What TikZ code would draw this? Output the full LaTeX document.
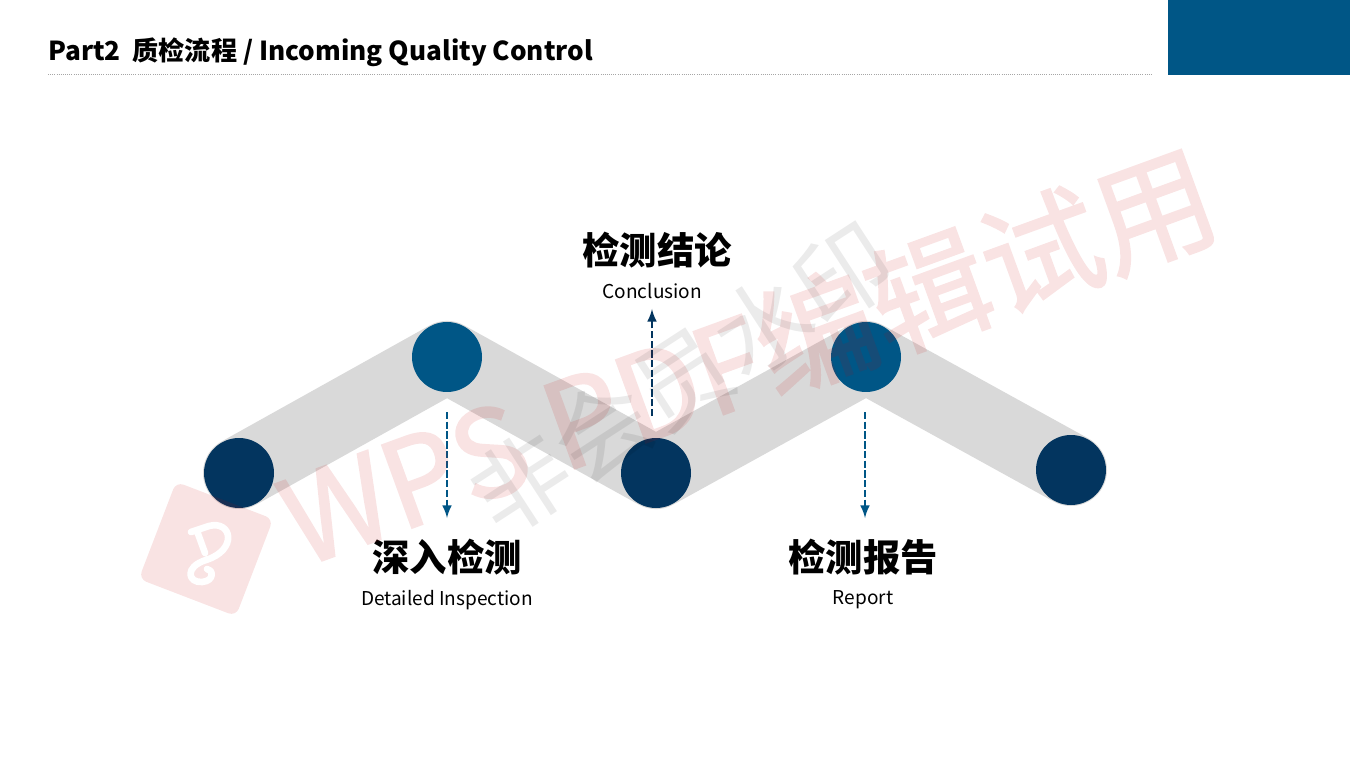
\documentclass[tikz,border=0pt]{standalone}
\usepackage{fontspec}
\setmainfont{Noto Sans CJK SC}
\newfontfamily\markfont[FakeBold=1.6]{Noto Sans CJK SC}
\usetikzlibrary{arrows.meta}
\usetikzlibrary{positioning}

\definecolor{lightblue}{HTML}{005686}
\definecolor{darkblue}{HTML}{03355F}
\definecolor{bandgray}{HTML}{D9D9D9}

\begin{document}
\begin{tikzpicture}[
      x = 0.75pt, y = -0.75pt,
      >=latex,
      node distance = 2mm,
      stop/.style = {
        circle, minimum size = 52.5pt, inner sep = 0pt
      },
      upper/.style = { fill = lightblue },
      lower/.style = { fill = darkblue },
      band/.style = {
        bandgray, line width = 54pt,
        line cap = round, line join = round
      },
      flow/.style = { ->, dash pattern = on 5.5pt off 1.8pt, line width = 2.2pt },
      heading/.style = {
        font = \fontsize{28}{30}\selectfont\bfseries,
        inner sep = 0pt
      },
      caption/.style = {
        font = \fontsize{14.3}{16}\selectfont,
        inner sep = 0pt
      },
      redmark/.style = { text = red!80!black, inner sep = 0pt },
      graymark/.style = { text = black, text opacity = 0.08, inner sep = 0pt },
    ]

    \useasboundingbox (0,0) rectangle (1350,759);
    \fill[white] (0,0) rectangle (1350,759);

    % header
    \fill[lightblue] (1168,0) rectangle (1350,75);
    \node[anchor = base west, inner sep = 0pt, font = \fontsize{19.6}{24}\selectfont\bfseries]
      (title) at (48,61) {Part2\ \ 质检流程 / Incoming Quality Control};
    \draw[gray!70, densely dotted, line width = 0.6pt] (48,74) to (1153,74);

    % path with stops
    \coordinate (A) at (239,473);
    \coordinate (B) at (447,357);
    \coordinate (C) at (656,473);
    \coordinate (D) at (866,357);
    \coordinate (E) at (1071,470);
    \draw[band] (A) -- (B) -- (C) -- (D) -- (E);
    \node[stop, lower] (stopA) at (A) {};
    \node[stop, upper] (stopB) at (B) {};
    \node[stop, lower] (stopC) at (C) {};
    \node[stop, upper] (stopD) at (D) {};
    \node[stop, lower] (stopE) at (E) {};

    % labels
    \node[heading] (inspect) at (447,557) {深入检测};
    \node[caption, below = 3.9mm of inspect] (inspectEn) {Detailed Inspection};
    \node[heading] (conclude) at (657,250) {检测结论};
    \node[caption, below = 3.9mm of conclude, xshift = -3.5pt] (concludeEn) {Conclusion};
    \node[heading] (report) at (863,557) {检测报告};
    \node[caption, below = 3.9mm of report] (reportEn) {Report};

    % arrows
    \coordinate (fromB) at (447,412);
    \coordinate (toB) at (447,518);
    \coordinate (fromC) at (652,416);
    \coordinate (toC) at (652,309);
    \coordinate (fromD) at (865,412);
    \coordinate (toD) at (865,518);
    \draw[flow, lightblue] (fromB) to (toB);
    \draw[flow, darkblue] (fromC) to (toC);
    \draw[flow, lightblue] (fromD) to (toD);

    % watermark
    \begin{scope}[shift = {(206,549)}, rotate = -21]
      \fill[red!80!black, opacity = 0.11, rounded corners = 6pt]
        (-52,-52) rectangle (52,52);
    \end{scope}
    \draw[white, line width = 5pt, line cap = round, line join = round]
      (191,532) -- (209,526) .. controls (232,520) and (238,550) .. (206,560)
      (197,531) -- (205,553)
      (206,560) .. controls (184,567) and (188,583) .. (202,582)
      .. controls (215,581) and (213,569) .. (207,569);
    \begin{scope}[transparency group, opacity = 0.11]
      \node[redmark, rotate = 20, font = \fontsize{90}{96}\selectfont\markfont] (markRed)
        at (748,357) {WPS PDF编辑试用};
    \end{scope}
    \node[graymark, rotate = 33, font = \fontsize{72}{80}\selectfont] (markGray)
      at (682,378) {非会员水印};
  \end{tikzpicture}
\end{document}
